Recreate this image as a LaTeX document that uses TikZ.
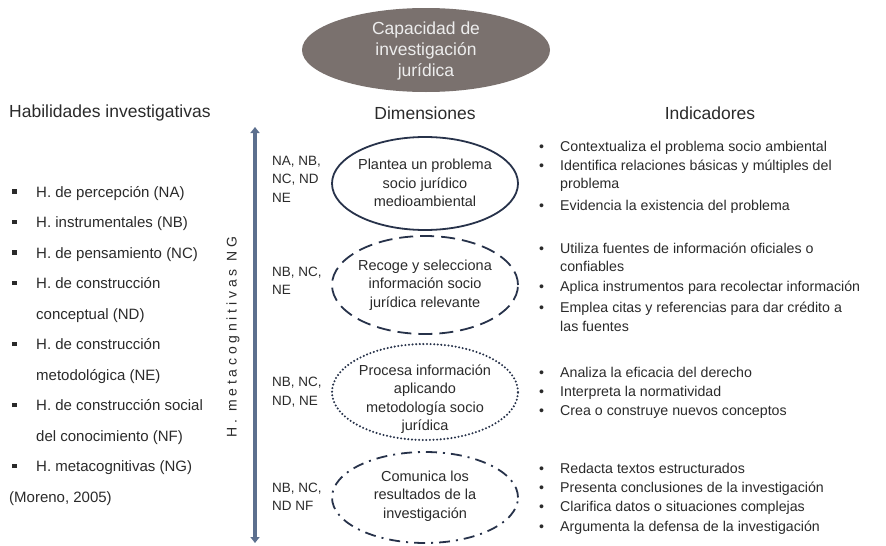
\documentclass[tikz,border=0pt]{standalone}
\usepackage{fontspec}
\setmainfont{Liberation Sans}
\usetikzlibrary{shapes.geometric,arrows.meta}
\definecolor{txt}{HTML}{2A2A2A}
\definecolor{ellc}{HTML}{27324A}
\definecolor{topfill}{HTML}{7A716E}
\definecolor{toptxt}{HTML}{EDEDED}
\definecolor{arrc}{HTML}{5C6F8E}
\begin{document}
\begin{tikzpicture}[x=1pt,y=-1pt,
  heading/.style={font=\fontsize{17.5}{20}\selectfont, text=txt, inner sep=0},
  listitem/.style={font=\fontsize{15}{18}\selectfont, text=txt, anchor=base west, inner sep=0},
  dimtext/.style={font=\fontsize{14.5}{18.5}\selectfont, align=center, text=txt, inner sep=0},
  codes/.style={font=\fontsize{13.5}{18.5}\selectfont, align=left, text=txt, anchor=west, inner sep=0},
  indic/.style={font=\fontsize{14.2}{19}\selectfont, text=txt, anchor=base west, inner sep=0},
  dimell/.style={ellipse, draw=ellc, line width=1.8, inner sep=0, minimum width=186},
]
\useasboundingbox (0,0) rectangle (886,546);
\newcommand{\sqbul}{\makebox[24pt][l]{\raisebox{3.5pt}{\rule{4.5pt}{4.5pt}}}}
\newcommand{\rbul}{\makebox[21pt][l]{•}}

% top ellipse
\node[ellipse, fill=topfill, minimum width=248, minimum height=84, inner sep=0] (top) at (426,50) {};
\node[font=\fontsize{17.5}{21}\selectfont, text=toptxt, align=center, inner sep=0] (toptext) at (426,51) {Capacidad de\\investigación\\jurídica};

% headings
\node[heading, anchor=west] (hab) at (9,113) {Habilidades investigativas};
\node[heading] (dim) at (425,113) {Dimensiones};
\node[heading] (ind) at (710,113) {Indicadores};

% left list
\node[listitem] (l1) at (12,197) {\sqbul H. de percepción  (NA)};
\node[listitem] (l2) at (12,227.5) {\sqbul H. instrumentales  (NB)};
\node[listitem] (l3) at (12,258) {\sqbul H. de pensamiento  (NC)};
\node[listitem] (l4) at (12,288.5) {\sqbul H. de construcción};
\node[listitem] (l5) at (36,319) {conceptual  (ND)};
\node[listitem] (l6) at (12,349.5) {\sqbul H. de construcción};
\node[listitem] (l7) at (36,380) {metodológica  (NE)};
\node[listitem] (l8) at (12,410.5) {\sqbul H. de construcción social};
\node[listitem] (l9) at (36,441) {del conocimiento  (NF)};
\node[listitem] (l10) at (12,471.5) {\sqbul H. metacognitivas  (NG)};
\node[listitem] (l11) at (9,502) {(Moreno, 2005)};

% vertical double arrow
\coordinate (atop) at (255,127);
\coordinate (abot) at (255,543);
\draw[arrc, line width=3.5, {Triangle[width=9pt,length=6pt]}-{Triangle[width=9pt,length=6pt]}] (atop) -- (abot);
\node[rotate=90, font=\fontsize{14}{16}\selectfont\addfontfeature{LetterSpace=27}, text=txt, inner sep=0] (meta) at (233,337) {H. metacognitivas NG};

% dimension ellipses
\node[dimell, minimum height=93] (e1) at (425,183.5) {};
\node[dimell, dash pattern=on 14pt off 7pt, minimum height=98] (e2) at (425,285) {};
\node[dimell, line cap=round, dash pattern=on 0pt off 3.6pt, line width=2.3, minimum height=96] (e3) at (425,392) {};
\node[dimell, dash pattern=on 11pt off 6pt on 2pt off 6pt, minimum height=91] (e4) at (425,497.5) {};

\node[dimtext] (t1) at (425,183) {Plantea un problema\\socio jurídico\\medioambiental};
\node[dimtext] (t2) at (425,285) {Recoge y selecciona\\información socio\\jurídica relevante};
\node[dimtext] (t3) at (425,399) {Procesa información\\aplicando\\metodología socio\\jurídica};
\node[dimtext] (t4) at (425,496) {Comunica los\\resultados de la\\investigación};

% codes
\node[codes] (c1) at (272,179) {NA, NB,\\NC, ND\\NE};
\node[codes] (c2) at (272,281) {NB, NC,\\NE};
\node[codes] (c3) at (272,392) {NB, NC,\\ND, NE};
\node[codes] (c4) at (272,497) {NB, NC,\\ND NF};

% indicators
\node[indic] (i1) at (539,151) {\rbul Contextualiza  el problema  socio ambiental};
\node[indic] (i2) at (539,170) {\rbul Identifica  relaciones básicas y múltiples  del};
\node[indic] (i2b) at (560,188) {problema};
\node[indic] (i3) at (539,210) {\rbul Evidencia la existencia del problema};

\node[indic] (i4) at (539,253) {\rbul Utiliza fuentes de información oficiales o};
\node[indic] (i4b) at (560,271) {confiables};
\node[indic] (i5) at (539,291) {\rbul Aplica instrumentos  para recolectar información};
\node[indic] (i6) at (539,312) {\rbul Emplea citas y referencias para dar crédito a};
\node[indic] (i6b) at (560,331) {las fuentes};

\node[indic] (i7) at (539,377) {\rbul Analiza la eficacia del derecho};
\node[indic] (i8) at (539,396) {\rbul Interpreta la normatividad};
\node[indic] (i9) at (539,415) {\rbul Crea o construye nuevos conceptos};

\node[indic] (i10) at (539,473) {\rbul Redacta textos estructurados};
\node[indic] (i11) at (539,492) {\rbul Presenta conclusiones de la investigación};
\node[indic] (i12) at (539,511) {\rbul Clarifica datos o situaciones complejas};
\node[indic] (i13) at (539,531) {\rbul Argumenta  la defensa de la investigación};
\end{tikzpicture}
\end{document}
